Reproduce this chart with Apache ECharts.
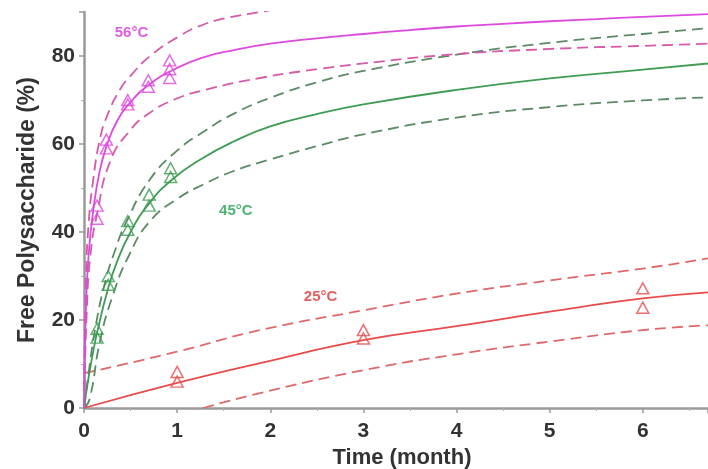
<!DOCTYPE html>
<html><head><meta charset="utf-8">
<script src="https://cdn.jsdelivr.net/npm/echarts@6/dist/echarts.min.js"></script>
<style>html,body{margin:0;padding:0;background:#fff}#c{width:708px;height:469px}</style>
</head><body><div id="c"></div>
<script>
// ---- data ----
const xTicks = [0, 1, 2, 3, 4, 5, 6];
const yTicks = [0, 20, 40, 60, 80];

// 56 °C
const m56FitX   = [0, 0.02, 0.05, 0.1, 0.17, 0.25, 0.35, 0.5, 0.7, 1, 1.3, 1.6, 2, 2.5, 3, 3.5, 4, 4.5, 5, 5.5, 6, 6.7];
const m56FitY   = [0, 22, 35, 45, 54, 60, 65, 69.5, 73.5, 77.3, 79.8, 81.3, 82.8, 84, 85, 85.9, 86.7, 87.3, 87.9, 88.4, 88.9, 89.5];
const m56UpX    = [0, 0.02, 0.05, 0.1, 0.17, 0.25, 0.39, 0.5, 0.71, 1.03, 1.24, 1.5, 1.89, 2.2];
const m56UpY    = [0, 28, 42, 52, 61, 66.5, 72.5, 75.5, 80, 84.6, 86.8, 88.5, 90, 91.2];
const m56LoX    = [0, 0.03, 0.07, 0.14, 0.28, 0.49, 0.7, 0.96, 1.3, 1.89, 2.5, 3, 3.92, 5, 6, 6.7];
const m56LoY    = [0, 22, 35, 44, 56, 63, 67, 70, 72.3, 75, 77, 78.3, 80.3, 81.6, 82.3, 82.8];
const m56PtX    = [0.14, 0.14, 0.24, 0.24, 0.47, 0.47, 0.69, 0.69, 0.92, 0.92, 0.92];
const m56PtY    = [46, 43, 61, 59, 70, 69, 74.5, 73, 79, 77, 75];

// 45 °C
const g45FitX   = [0, 0.05, 0.1, 0.15, 0.25, 0.35, 0.5, 0.7, 0.95, 1.25, 1.6, 2, 2.5, 3, 4, 5, 6, 6.7];
const g45FitY   = [0, 7, 13, 18, 26.5, 33, 40, 46.5, 52, 56.5, 60.5, 64, 66.8, 69, 72.3, 74.9, 76.9, 78.3];
const g45UpX    = [0, 0.05, 0.12, 0.22, 0.32, 0.46, 0.71, 1, 1.3, 1.6, 2, 2.5, 3, 4, 5, 6, 6.7];
const g45UpY    = [0, 8, 18, 28, 35, 42.5, 52, 58.5, 63, 66.8, 70.5, 74, 76.6, 80.3, 83, 85, 86.3];
const g45LoX    = [0, 0.06, 0.17, 0.3, 0.49, 0.71, 1, 1.3, 1.6, 2, 2.5, 3, 4, 5, 6, 6.7];
const g45LoY    = [0, 2, 15, 25, 35, 42.5, 47.5, 51, 53.8, 56.5, 59.5, 62.2, 66, 68.4, 69.9, 70.6];
const g45PtX    = [0.14, 0.14, 0.26, 0.26, 0.47, 0.47, 0.7, 0.7, 0.93, 0.93];
const g45PtY    = [18, 16, 30, 28, 42.5, 40.5, 48.5, 46, 54.5, 52.5];

// 25 °C
const r25FitX   = [0, 1, 1.89, 3, 4, 5, 6, 6.7];
const r25FitY   = [0, 5.7, 10.2, 15.4, 18.6, 21.9, 24.9, 26.3];
const r25UpX    = [0, 1, 1.89, 3, 4, 5, 6, 6.7];
const r25UpY    = [7.9, 12.8, 17.7, 22.2, 26, 29, 31.7, 34];
const r25LoX    = [1.28, 1.89, 3, 4, 5, 6, 6.7];
const r25LoY    = [0, 3.4, 8.6, 12.2, 15.1, 17.7, 18.8];
const r25PtX    = [1, 1, 3, 3, 6, 6];
const r25PtY    = [8.2, 6, 17.7, 15.8, 27.2, 22.8];

const tempLabels = ['56°C', '45°C', '25°C'];
const tempLabelX = [0.51, 1.63, 2.54];
const tempLabelY = [85.3, 44.9, 25.2];

// ---- styles ----
const C56 = '#dc4ade', C56d = '#d65aa8';
const C45 = '#3f9c55', C45d = '#5b8a64';
const C25 = '#e84c4c', C25d = '#e06868';
const zip = (xs, ys) => xs.map((x, i) => [x, ys[i]]);

function line(xs, ys, color, dashed) {
  return {
    type: 'line', data: zip(xs, ys), showSymbol: false, smooth: 0.5,
    lineStyle: { color, width: 1.8, type: dashed ? [11, 6] : 'solid' },
    clip: true, silent: true, z: 2
  };
}
function pts(xs, ys, color) {
  return {
    type: 'scatter', data: zip(xs, ys), symbol: 'triangle', symbolSize: [12, 11],
    itemStyle: { color: 'rgba(255,255,255,0)', borderColor: color, borderWidth: 1.5 }, z: 3
  };
}
const labelColors = ['#d634d6', '#22a04e', '#e03434'];
const FONT = 'Liberation Sans';

const chart = echarts.init(document.getElementById('c'));
chart.setOption({
  animation: false,
  backgroundColor: '#fff',
  grid: { left: 84, right: 0, top: 12, bottom: 61, outerBoundsMode: 'none', containLabel: false },
  xAxis: {
    type: 'value', min: 0, max: 6.7, interval: 1,
    name: 'Time (month)', nameLocation: 'middle', nameGap: 37,
    nameTextStyle: { fontFamily: FONT, fontWeight: 'bold', fontSize: 22, color: '#333', padding: [0, 0, 0, 12] },
    axisLine: { lineStyle: { color: '#9a9a9a', width: 2.5 } },
    axisTick: { show: true, length: 5, lineStyle: { color: '#9a9a9a', width: 1.5 } },
    minorTick: { show: true, splitNumber: 2, length: 3, lineStyle: { color: '#b0b0b0' } },
    axisLabel: { showMaxLabel: false, margin: 13, fontFamily: FONT, fontWeight: 'bold', fontSize: 21, color: '#333',
      formatter: v => xTicks.includes(v) ? String(v) : '' },
    splitLine: { show: false }
  },
  yAxis: {
    type: 'value', min: 0, max: 90, interval: 20,
    name: 'Free Polysaccharide (%)', nameLocation: 'middle', nameGap: 45, nameRotate: 90,
    nameTextStyle: { fontFamily: FONT, fontWeight: 'bold', fontSize: 23, color: '#333' },
    axisLine: { show: true, lineStyle: { color: '#9a9a9a', width: 2.5 } },
    axisTick: { show: true, length: 5, lineStyle: { color: '#9a9a9a', width: 1.5 } },
    minorTick: { show: true, splitNumber: 2, length: 3, lineStyle: { color: '#b0b0b0' } },
    axisLabel: { showMaxLabel: false, margin: 9, fontFamily: FONT, fontWeight: 'bold', fontSize: 21, color: '#333',
      formatter: v => yTicks.includes(v) ? String(v) : '' },
    splitLine: { show: false }
  },
  series: [
    line(r25UpX, r25UpY, C25d, true), line(r25LoX, r25LoY, C25d, true), line(r25FitX, r25FitY, C25, false),
    line(g45UpX, g45UpY, C45d, true), line(g45LoX, g45LoY, C45d, true), line(g45FitX, g45FitY, C45, false),
    line(m56UpX, m56UpY, C56d, true), line(m56LoX, m56LoY, C56d, true), line(m56FitX, m56FitY, C56, false),
    pts(r25PtX, r25PtY, C25), pts(g45PtX, g45PtY, C45), pts(m56PtX, m56PtY, C56),
    {
      type: 'scatter', symbolSize: 0, silent: true, z: 4,
      data: tempLabels.map((t, i) => ({
        value: [tempLabelX[i], tempLabelY[i]],
        label: { show: true, position: 'inside', formatter: t, color: labelColors[i],
          fontFamily: FONT, fontWeight: 'bold', fontSize: 15 }
      }))
    }
  ]
});
</script>
</body></html>
